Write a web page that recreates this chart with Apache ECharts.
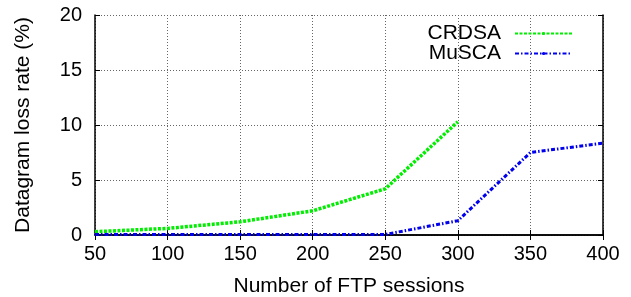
<!DOCTYPE html>
<html>
<head>
<meta charset="utf-8">
<script src="https://cdn.jsdelivr.net/npm/echarts@6/dist/echarts.min.js"></script>
<style>
  html, body { margin: 0; padding: 0; background: #fff; }
  #chart { width: 631px; height: 297px; }
</style>
</head>
<body>
<div id="chart"></div>
<script>
// data
var sessions = [50, 100, 150, 200, 250, 300, 350, 400];
var crdsa = [0.3, 0.6, 1.2, 2.2, 4.2, 10.3];
var musca = [0.05, 0.05, 0.05, 0.05, 0.05, 1.3, 7.5, 8.35];
var names = ['CRDSA', 'MuSCA'];

function pairs(xs, ys) {
  var out = [];
  for (var i = 0; i < ys.length; i++) out.push([xs[i], ys[i]]);
  return out;
}

var font = 'Liberation Sans, Arial, sans-serif';
var gridLine = { show: true, lineStyle: { color: '#666', type: [1, 2], width: 1 } };

var chart = echarts.init(document.getElementById('chart'));
var option = {
  animation: false,
  grid: { left: 95, right: 28, top: 15, bottom: 62, containLabel: false, outerBoundsMode: 'none' },
  legend: {
    data: names,
    orient: 'vertical',
    right: 53,
    top: 18,
    align: 'right',
    itemWidth: 57,
    itemHeight: 4,
    itemGap: -1,
    textStyle: { fontFamily: font, fontSize: 21, color: '#000', width: 80, align: 'right', padding: [0, 9, 0, 0] }
  },
  xAxis: [{
    type: 'value', min: 50, max: 400, interval: 50,
    axisLine: { lineStyle: { color: '#000', width: 1.5 } },
    axisTick: { inside: true, length: 5, lineStyle: { color: '#000' } },
    axisLabel: { fontFamily: font, fontSize: 20, color: '#000', margin: 9 },
    splitLine: gridLine,
    name: 'Number of FTP sessions', nameLocation: 'middle', nameGap: 41,
    nameTextStyle: { fontFamily: font, fontSize: 21, color: '#000' }
  }, {
    type: 'value', min: 50, max: 400, interval: 50, position: 'top',
    axisLine: { show: true, lineStyle: { color: '#000', width: 1.5 } },
    axisTick: { show: true, inside: true, length: 5, lineStyle: { color: '#000' } },
    axisLabel: { show: false }, splitLine: { show: false }
  }],
  yAxis: [{
    type: 'value', min: 0, max: 20, interval: 5,
    axisLine: { show: true, lineStyle: { color: '#000', width: 1.5 } },
    axisTick: { show: true, inside: true, length: 5, lineStyle: { color: '#000' } },
    axisLabel: { fontFamily: font, fontSize: 20, color: '#000', margin: 13 },
    splitLine: gridLine,
    name: 'Datagram loss rate (%)', nameLocation: 'middle', nameGap: 61,
    nameTextStyle: { fontFamily: font, fontSize: 21, color: '#000' }
  }, {
    type: 'value', min: 0, max: 20, interval: 5, position: 'right',
    axisLine: { show: true, lineStyle: { color: '#000', width: 1.5 } },
    axisTick: { show: true, inside: true, length: 5, lineStyle: { color: '#000' } },
    axisLabel: { show: false }, splitLine: { show: false }
  }],
  series: [{
    name: names[0], type: 'line', symbol: 'none',
    data: pairs(sessions, crdsa),
    itemStyle: { color: '#00ee00' },
    lineStyle: { color: '#00ee00', width: 3.5, type: [3, 1.5] }
  }, {
    name: names[1], type: 'line', symbol: 'none',
    data: pairs(sessions, musca),
    itemStyle: { color: '#0000ee' },
    lineStyle: { color: '#0000ee', width: 3, type: [4, 2, 1.5, 2] }
  }]
};
chart.setOption(option);
</script>
</body>
</html>
